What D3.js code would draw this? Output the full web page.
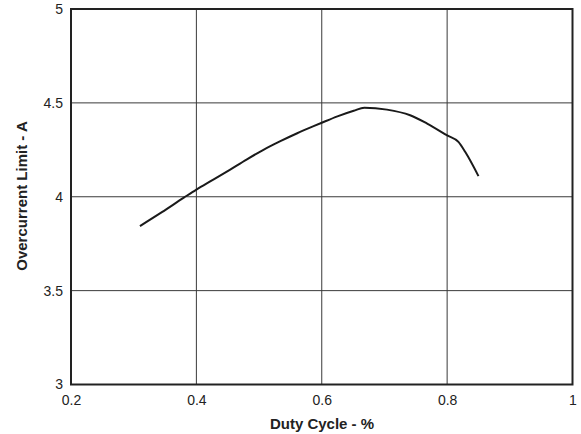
<!DOCTYPE html>
<html><head><meta charset="utf-8">
<script src="https://cdn.jsdelivr.net/npm/d3@7/dist/d3.min.js"></script>
<style>body{margin:0;background:#fff}svg{display:block}</style>
</head><body>
<svg id="c" width="581" height="434"></svg>
<script>
const duty = [0.310, 0.345, 0.380, 0.400, 0.427, 0.454, 0.480, 0.507, 0.534, 0.560, 0.587, 0.600, 0.625, 0.651, 0.668, 0.704, 0.741, 0.768, 0.800, 0.818, 0.829, 0.850];
const current = [3.844, 3.918, 3.995, 4.038, 4.091, 4.145, 4.198, 4.250, 4.296, 4.337, 4.376, 4.394, 4.428, 4.458, 4.474, 4.464, 4.434, 4.39, 4.327, 4.292, 4.238, 4.11];
const xTicks = [0.2, 0.4, 0.6, 0.8, 1];
const yTicks = [3, 3.5, 4, 4.5, 5];
const xLabels = ["0.2", "0.4", "0.6", "0.8", "1"];
const yLabels = ["3", "3.5", "4", "4.5", "5"];

const svg = d3.select("#c");
const L = 71, R = 572.5, T = 9, B = 384.5;
const x = d3.scaleLinear().domain([0.2, 1]).range([L, R]);
const y = d3.scaleLinear().domain([3, 5]).range([B, T]);
const font = "'Liberation Sans', Arial, sans-serif";

// grid
svg.append("g").selectAll("line").data(xTicks.slice(1, -1)).join("line")
  .attr("x1", d => x(d)).attr("x2", d => x(d)).attr("y1", T).attr("y2", B)
  .attr("stroke", "#3a3a3a").attr("stroke-width", 1);
svg.append("g").selectAll("line").data(yTicks.slice(1, -1)).join("line")
  .attr("y1", d => y(d)).attr("y2", d => y(d)).attr("x1", L).attr("x2", R)
  .attr("stroke", "#3a3a3a").attr("stroke-width", 1);

// axes (labels only)
const xAxis = d3.axisBottom(x).tickValues(xTicks).tickSize(0).tickPadding(11)
  .tickFormat((d, i) => xLabels[i]);
const gx = svg.append("g").attr("transform", `translate(0,${B})`).call(xAxis);
gx.select(".domain").remove();
gx.selectAll("text").attr("font-family", font).attr("font-size", 14).attr("fill", "#222");

const yAxis = d3.axisLeft(y).tickValues(yTicks).tickSize(0).tickPadding(8)
  .tickFormat((d, i) => yLabels[i]);
const gy = svg.append("g").attr("transform", `translate(${L},0)`).call(yAxis);
gy.select(".domain").remove();
gy.selectAll("text").attr("font-family", font).attr("font-size", 14).attr("fill", "#222");

// frame
svg.append("rect").attr("x", L).attr("y", T).attr("width", R - L).attr("height", B - T)
  .attr("fill", "none").attr("stroke", "#222").attr("stroke-width", 2);

// curve
const line = d3.line().x((d, i) => x(duty[i])).y((d, i) => y(current[i])).curve(d3.curveMonotoneX);
svg.append("path").datum(duty).attr("d", line)
  .attr("fill", "none").attr("stroke", "#1a1a1a").attr("stroke-width", 2);

// titles
svg.append("text").attr("x", 322).attr("y", 428.5).attr("text-anchor", "middle")
  .attr("font-family", font).attr("font-size", 15).attr("font-weight", "bold").attr("fill", "#222")
  .text("Duty Cycle - %");
svg.append("text").attr("transform", `translate(26.5,196) rotate(-90)`).attr("text-anchor", "middle")
  .attr("font-family", font).attr("font-size", 15).attr("font-weight", "bold").attr("fill", "#222")
  .text("Overcurrent Limit - A");
</script>
</body></html>
